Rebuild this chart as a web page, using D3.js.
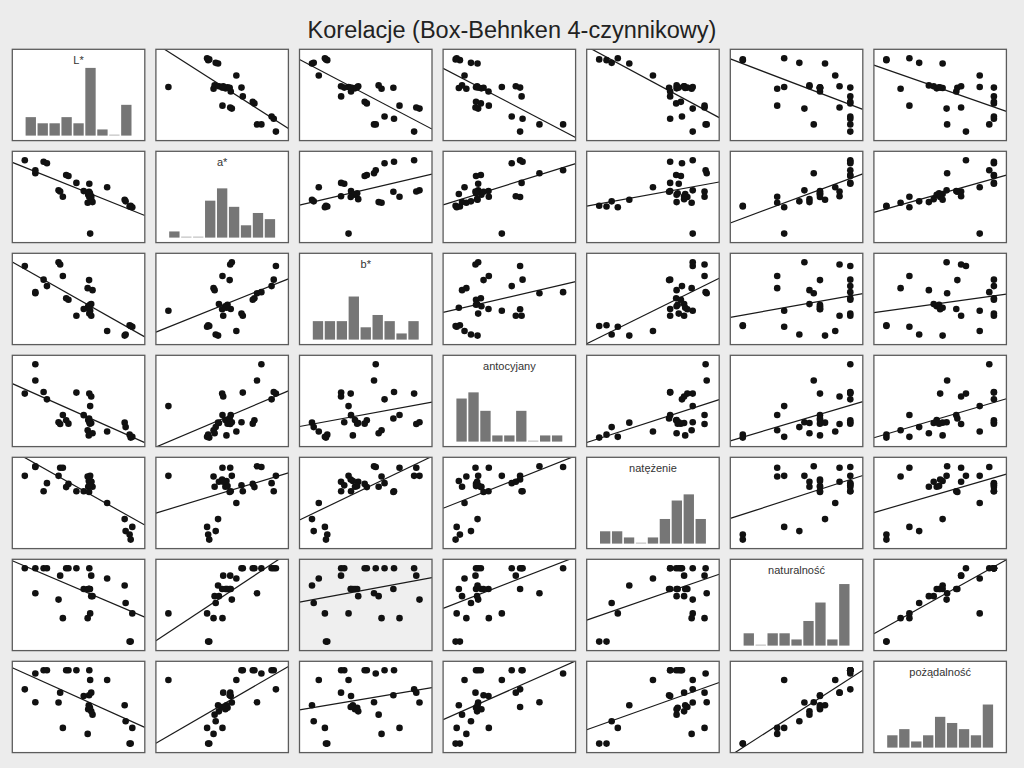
<!DOCTYPE html>
<html><head><meta charset="utf-8">
<script src="https://cdn.jsdelivr.net/npm/d3@7"></script>
<style>body{margin:0;background:#ececec;} svg{display:block;}</style>
</head><body>
<svg id="chart" width="1024" height="768"></svg>
<script>
const title = "Korelacje (Box-Behnken 4-czynnikowy)";
const varNames = ["L*", "a*", "b*", "antocyjany", "natężenie", "naturalność", "pożądalność"];

// 29 runs (relative units)
const Lstar = [0, 9.8, 9.8, 17.5, 20.6, 31.4, 32.9, 35.4, 38.5, 40.6, 48.0, 54.8,
  60.8, 58.5, 63.0, 61.8, 59.0, 60.6, 59.5, 60.0, 59.8, 61.8, 60.0,
  76.6, 92.9, 93.8, 97.5, 98.5, 100];
const aStar = [100, 82.4, 86.5, 98, 96, 59, 57.5, 50.3, 80, 78.5, 69.2, 58,
  0, 42, 43, 47, 53, 55, 54, 50, 57, 51, 68,
  63.2, 46.2, 44, 37, 38, 36];
const bStar = [95, 57.7, 59.3, 76.3, 67.5, 100, 97, 81.4, 51, 49, 27.1, 36.3,
  34, 64.7, 62, 43, 40, 42, 38, 36, 75.7, 27, 30,
  6.3, 0, 1.6, 14.2, 13, 12];
const antocyjany = [60, 78, 100, 62.3, 52.2, 21, 18.5, 30.9, 23.5, 19, 61.4, 30.6,
  43, 10, 6, 20, 24, 19, 3, 60, 26, 56, 21,
  8.3, 20.4, 14.3, 4, 0, 1];
const natezenie = [87, 100, 99, 66, 77, 87, 98, 98, 71.6, 76, 66, 66,
  87, 86, 72, 79, 72, 73, 80, 82, 65, 79, 74,
  50, 28, 11.6, 6.8, 0, 17.3];
const naturalnosc = [100, 66, 100, 100, 100, 57.3, 90, 32, 100, 100, 100, 71.8,
  38.5, 32, 62, 62, 71.8, 71.8, 71.8, 71.8, 71.8, 90, 100,
  86, 76.5, 52.6, 0, 0, 38.5];
const pozadalnosc = [74, 56.5, 95.7, 100, 100, 56, 69.5, 21.4, 100, 100, 100, 65,
  86.8, 13.2, 39.5, 44, 46.8, 49, 52.3, 50, 66, 69.5, 100,
  86.8, 52.3, 30.5, 0, 0, 21.4];

const series = [Lstar, aStar, bStar, antocyjany, natezenie, naturalnosc, pozadalnosc];
const nBins = 9;
const highlighted = [5, 2];

const svg = d3.select("#chart");
const font = "'Liberation Sans', Arial, sans-serif";
svg.append("rect").attr("width", 1024).attr("height", 768).attr("fill", "#ececec");
svg.append("text").attr("x", 512).attr("y", 38).attr("text-anchor", "middle")
  .attr("font-family", font).attr("font-size", 23.5).attr("fill", "#222").text(title);

const left0 = 12.3, top0 = 49.3, cw = 132.5, ch = 91.3, stepX = 143.6, stepY = 102;
const padX = 12.5, padY = 9;
const defs = svg.append("defs");
defs.append("clipPath").attr("id", "cellclip").append("rect")
  .attr("x", 0).attr("y", 0).attr("width", cw).attr("height", ch);

function regression(xv, yv) {
  const mx = d3.mean(xv), my = d3.mean(yv);
  let sxy = 0, sxx = 0;
  xv.forEach((x, k) => { sxy += (x - mx) * (yv[k] - my); sxx += (x - mx) * (x - mx); });
  const b = sxy / sxx;
  return { b, a: my - b * mx };
}

const nv = series.length;
for (let i = 0; i < nv; i++) {
  for (let j = 0; j < nv; j++) {
    const x0 = left0 + j * stepX, y0 = top0 + i * stepY;
    const g = svg.append("g").attr("transform", `translate(${x0},${y0})`);
    const isHi = (i === highlighted[0] && j === highlighted[1]);
    g.append("rect").attr("width", cw).attr("height", ch)
      .attr("fill", isHi ? "#efefef" : "#ffffff");
    const xv = series[j];
    const xs = d3.scaleLinear().domain(d3.extent(xv)).range([padX, cw - padX]);
    if (i === j) {
      const [mn, mx] = d3.extent(xv);
      const thr = d3.range(1, nBins).map(k => mn + k * (mx - mn) / nBins);
      const bins = d3.bin().domain([mn, mx]).thresholds(thr)(xv);
      const base = ch - 5;
      const hy = d3.scaleLinear().domain([0, 11]).range([base, base - 67.7]);
      g.selectAll("rect.bar").data(bins).join("rect").attr("class", "bar")
        .attr("x", d => xs(d.x0) + 0.8)
        .attr("width", d => Math.max(0, xs(d.x1) - xs(d.x0) - 1.6))
        .attr("y", d => d.length ? hy(d.length) : base - 1)
        .attr("height", d => d.length ? base - hy(d.length) : 1)
        .attr("fill", d => d.length ? "#767676" : "#b5b5b5");
      g.append("text").attr("x", cw / 2).attr("y", 14.5).attr("text-anchor", "middle")
        .attr("font-family", font).attr("font-size", 11).attr("fill", "#333")
        .text(varNames[i]);
    } else {
      const yv = series[i];
      const ys = d3.scaleLinear().domain(d3.extent(yv)).range([ch - padY, padY]);
      const r = regression(xv, yv);
      const xa = xs.invert(0), xb = xs.invert(cw);
      g.append("line").attr("clip-path", "url(#cellclip)")
        .attr("x1", xs(xa)).attr("y1", ys(r.a + r.b * xa))
        .attr("x2", xs(xb)).attr("y2", ys(r.a + r.b * xb))
        .attr("stroke", "#1a1a1a").attr("stroke-width", 1.2);
      g.selectAll("circle").data(d3.range(xv.length)).join("circle")
        .attr("cx", k => xs(xv[k])).attr("cy", k => ys(yv[k]))
        .attr("r", 3.3).attr("fill", "#111");
    }
    g.append("rect").attr("width", cw).attr("height", ch)
      .attr("fill", "none").attr("stroke", "#5c5c5c").attr("stroke-width", 1.3);
  }
}
</script>
</body></html>
